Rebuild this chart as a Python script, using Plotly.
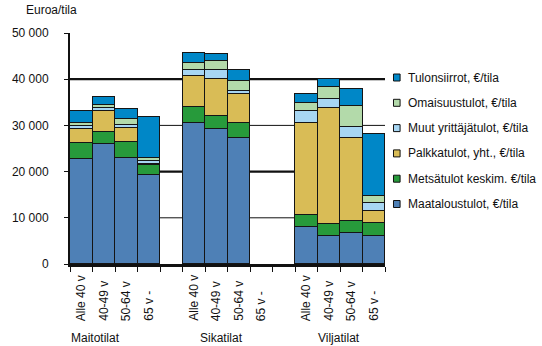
import plotly.graph_objects as go

# Farm types and age groups of the farmer
groups = ["Maitotilat", "Sikatilat", "Viljatilat"]
age_groups = ["Alle 40 v", "40-49 v", "50-64 v", "65 v -"]

# Income components, euro per farm; 4 age groups per farm type, in group order
maatalous = [22800, 25900, 22900, 19200, 30600, 29300, 27300, None, 8050, 6100, 6750, 6100]
metsa = [3400, 2700, 3600, 2250, 3300, 2800, 3250, None, 2650, 2650, 2650, 2800]
palkka = [3000, 4500, 2900, 250, 6800, 7900, 6300, None, 19900, 25050, 17800, 2500]
muut_yrittaja = [600, 600, 650, 550, 1400, 2050, 550, None, 2600, 1850, 2450, 1800]
omaisuus = [700, 800, 1400, 650, 1300, 1950, 2250, None, 1650, 2700, 4550, 1500]
tulonsiirrot = [2550, 1750, 2150, 8950, 2300, 1500, 2450, None, 2000, 1600, 3750, 13400]

series_names = [
    "Maataloustulot, €/tila",
    "Metsätulot keskim. €/tila",
    "Palkkatulot, yht., €/tila",
    "Muut yrittäjätulot, €/tila",
    "Omaisuustulot, €/tila",
    "Tulonsiirrot, €/tila",
]
series_values = [maatalous, metsa, palkka, muut_yrittaja, omaisuus, tulonsiirrot]
colors = ["#4E80B6", "#279A3B", "#D9BC56", "#A7D6F3", "#B3DAAA", "#0087C7"]

FONT = "Arial, Liberation Sans, sans-serif"
W, H = 542, 346
ML, MR, MT, MB = 51, 157, 33, 82
PW, PH = W - ML - MR, H - MT - MB

def paper_x(px):
    return (px - ML) / PW

def paper_y(py):
    return (H - MB - py) / PH

# One slot per bar, with an empty slot between farm types
slot = len(age_groups) + 1
xpos = [g * slot + c for g in range(len(groups)) for c in range(len(age_groups))]
n_slots = len(groups) * slot - 1

fig = go.Figure()
for name, vals, col in zip(series_names, series_values, colors):
    fig.add_trace(go.Bar(
        x=xpos, y=vals, name=name, width=1.0,
        marker=dict(color=col, line=dict(color="#151515", width=1.5)),
        showlegend=False,
    ))

shapes = []
# Horizontal gridlines: thin at 10 000 and 30 000, heavy at 20 000 and 40 000
for v, w in [(10000, 1), (20000, 2.2), (30000, 1), (40000, 2.2)]:
    shapes.append(dict(type="line", xref="paper", yref="y", x0=0, x1=1, y0=v, y1=v,
                       line=dict(color="#111111", width=w), layer="below"))

annotations = []
# Rotated age-group labels under each bar
for g in range(len(groups)):
    for c, lab in enumerate(age_groups):
        annotations.append(dict(
            x=g * slot + c, xref="x", y=paper_y(323), yref="paper",
            text=lab, textangle=-90, showarrow=False,
            xanchor="center", yanchor="bottom",
            font=dict(family=FONT, size=12, color="#111111"),
        ))

# Farm type labels
for name, cx in zip(groups, [78, 212, 336]):
    annotations.append(dict(
        x=paper_x(cx), xref="paper", y=paper_y(338), yref="paper",
        text=name, showarrow=False, xanchor="center", yanchor="middle",
        font=dict(family=FONT, size=12, color="#111111"),
    ))

# Axis title
annotations.append(dict(
    x=paper_x(2), xref="paper", y=paper_y(10), yref="paper",
    text="Euroa/tila", showarrow=False, xanchor="left", yanchor="middle",
    font=dict(family=FONT, size=12, color="#111111"),
))

# Legend: top entry is the top of the stack
for i, (name, col) in enumerate(reversed(list(zip(series_names, colors)))):
    cy = 77.5 + i * 25.3
    shapes.append(dict(type="rect", xref="paper", yref="paper",
                       x0=paper_x(394), x1=paper_x(401),
                       y0=paper_y(cy + 3.5), y1=paper_y(cy - 3.5),
                       fillcolor=col, line=dict(color="#111111", width=1)))
    annotations.append(dict(
        x=paper_x(407), xref="paper", y=paper_y(cy), yref="paper",
        text=name, showarrow=False, xanchor="left", yanchor="middle",
        font=dict(family=FONT, size=12, color="#111111"),
    ))

fig.update_layout(
    width=W, height=H,
    margin=dict(l=ML, r=MR, t=MT, b=MB, pad=0),
    paper_bgcolor="white", plot_bgcolor="white",
    barmode="stack", bargap=0,
    separators=", ",
    font=dict(family=FONT, size=12, color="#111111"),
    shapes=shapes, annotations=annotations,
    showlegend=False,
    xaxis=dict(
        range=[-0.5, n_slots - 0.5],
        tickvals=[i - 0.5 for i in range(n_slots + 1)],
        showticklabels=False,
        ticks="outside", ticklen=5, tickwidth=1, tickcolor="#111111",
        showline=True, linecolor="#111111", linewidth=2.5,
        showgrid=False, zeroline=False, fixedrange=True,
    ),
    yaxis=dict(
        range=[0, 50000], dtick=10000, tickformat=",d",
        ticks="outside", ticklen=4, tickwidth=1, tickcolor="#111111",
        ticklabelstandoff=13,
        showline=True, linecolor="#111111", linewidth=2,
        showgrid=False, zeroline=False, fixedrange=True,
        tickfont=dict(family=FONT, size=12, color="#111111"),
    ),
)

fig.write_html("out.html")
